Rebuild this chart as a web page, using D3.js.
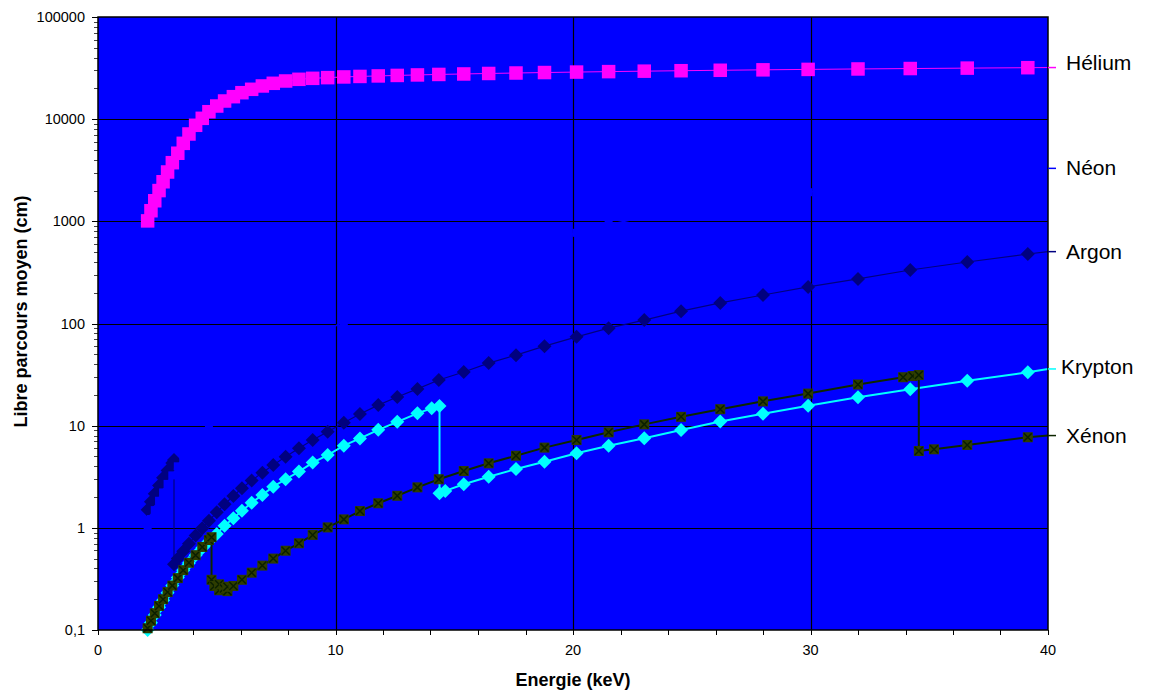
<!DOCTYPE html>
<html>
<head>
<meta charset="utf-8">
<script src="https://cdn.jsdelivr.net/npm/d3@7"></script>
<style>
  html, body { margin: 0; padding: 0; background: #ffffff; }
  svg { display: block; font-family: "Liberation Sans", Arial, sans-serif; }
</style>
</head>
<body>
<svg id="chart" width="1149" height="694"></svg>
<script>
// Energy grid (keV) shared by helium and neon
const energies = [2.09, 2.23, 2.39, 2.57, 2.74, 2.93, 3.13, 3.36, 3.59, 3.83, 4.11, 4.39, 4.67, 5.0,
  5.33, 5.70, 6.06, 6.47, 6.92, 7.38, 7.90, 8.46, 9.04, 9.67, 10.35, 11.03, 11.8, 12.6, 13.45,
  14.35, 15.4, 16.45, 17.6, 18.8, 20.15, 21.5, 23.0, 24.55, 26.2, 28.0, 29.9, 32.0, 34.2, 36.6, 39.15];

// Mean free path (cm)
const heliumValues = [1010, 1270, 1590, 2000, 2440, 3040, 3750, 4640, 5800, 7160, 8710, 10190, 11830, 13450,
  15060, 16600, 18160, 19600, 21130, 22440, 23640, 24550, 25100, 25500, 25900, 26200, 26500, 26800, 27100,
  27400, 27700, 28000, 28300, 28600, 28900, 29200, 29500, 29800, 30100, 30400, 30700, 31000, 31300, 31600, 31900];

const neonValues = [1.01, 1.22, 1.49, 1.84, 2.22, 2.69, 3.26, 4.0, 4.85, 5.85, 7.2, 8.7, 10.4, 12.7,
  15.2, 18.5, 22.1, 26.8, 32.5, 39.3, 47.8, 58.3, 70.7, 86, 104.6, 126.6, 155, 189, 230,
  279, 345, 420, 514, 627, 772, 926, 1104, 1291, 1490, 1702, 1928, 2179, 2500, 2850, 3200];

const argonEnergies = [2.09, 2.23, 2.39, 2.57, 2.74, 2.93, 3.13, 3.2, 3.2, 3.36, 3.59, 3.83, 4.11, 4.39, 4.67, 5.0,
  5.33, 5.70, 6.06, 6.47, 6.92, 7.38, 7.90, 8.46, 9.04, 9.67, 10.35, 11.03, 11.8, 12.6, 13.45,
  14.35, 15.4, 16.45, 17.6, 18.8, 20.15, 21.5, 23.0, 24.55, 26.2, 28.0, 29.9, 32.0, 34.2, 36.6, 39.15];
const argonValues = [1.5, 1.8, 2.15, 2.6, 3.1, 3.65, 4.3, 4.6, 0.44, 0.50, 0.59, 0.70, 0.84, 0.99, 1.17, 1.42,
  1.70, 2.05, 2.44, 2.9, 3.47, 4.12, 4.97, 6.0, 7.24, 8.7, 10.7, 13.0, 15.9, 19.1, 22.9,
  28, 33.5, 41, 49, 60, 74, 90, 108, 132, 159, 190, 228, 273, 334, 400, 479];

const kryptonEnergies = [2.09, 2.23, 2.39, 2.57, 2.74, 2.93, 3.13, 3.36, 3.59, 3.83, 4.11, 4.39, 4.67, 5.0,
  5.33, 5.70, 6.06, 6.47, 6.92, 7.38, 7.90, 8.46, 9.04, 9.67, 10.35, 11.03, 11.8, 12.6, 13.45,
  14.05, 14.38, 14.38, 14.62, 15.4, 16.45, 17.6, 18.8, 20.15, 21.5, 23.0, 24.55, 26.2, 28.0, 29.9, 32.0, 34.2, 36.6, 39.15];
const kryptonValues = [0.10, 0.118, 0.14, 0.167, 0.196, 0.232, 0.273, 0.326, 0.385, 0.452, 0.539, 0.635, 0.74, 0.87,
  1.05, 1.24, 1.47, 1.76, 2.10, 2.53, 2.99, 3.55, 4.35, 5.16, 6.37, 7.5, 9.1, 10.9, 13.2,
  14.8, 15.6, 2.18, 2.30, 2.67, 3.16, 3.77, 4.44, 5.37, 6.37, 7.52, 9.07, 11.0, 13.1, 15.7, 19.0, 22.7, 27.5, 33.3];

const xenonEnergies = [2.09, 2.23, 2.39, 2.57, 2.74, 2.93, 3.13, 3.36, 3.59, 3.83, 4.11, 4.39, 4.67, 4.78,
  4.78, 4.9, 5.1, 5.1, 5.3, 5.45, 5.45, 5.70, 6.06, 6.47, 6.92, 7.38, 7.90, 8.46, 9.04, 9.67, 10.35, 11.03,
  11.8, 12.6, 13.45, 14.35, 15.4, 16.45, 17.6, 18.8, 20.15, 21.5, 23.0, 24.55, 26.2, 28.0, 29.9, 32.0,
  33.9, 34.3, 34.56, 34.56, 35.2, 36.6, 39.15];
const xenonValues = [0.104, 0.123, 0.146, 0.172, 0.20, 0.235, 0.272, 0.322, 0.385, 0.455, 0.54, 0.65, 0.76, 0.81,
  0.31, 0.27, 0.245, 0.28, 0.255, 0.24, 0.265, 0.27, 0.31, 0.364, 0.427, 0.50, 0.597, 0.706, 0.852, 1.01, 1.21, 1.46,
  1.74, 2.06, 2.49, 2.99, 3.6, 4.28, 5.08, 6.1, 7.24, 8.61, 10.3, 12.2, 14.5, 17.3, 20.6, 25.3,
  29.8, 30.6, 31.3, 5.65, 5.87, 6.47, 7.7];

// Value of each curve at the right edge (40 keV), where its name is written
const seriesNames = ["Hélium", "Néon", "Argon", "Krypton", "Xénon"];
const edgeValues = [32000, 3300, 505, 35.9, 8.0];

const xTicks = [0, 10, 20, 30, 40];
const xMinorTicks = d3.range(0, 41, 2);
const yTicks = [0.1, 1, 10, 100, 1000, 10000, 100000];
const yTickLabels = ["0,1", "1", "10", "100", "1000", "10000", "100000"];

const svg = d3.select("#chart");
const plotLeft = 98, plotRight = 1048, plotTop = 17, plotBottom = 630;

const x = d3.scaleLinear().domain([0, 40]).range([plotLeft, plotRight]);
const y = d3.scaleLog().domain([0.1, 100000]).range([plotBottom, plotTop]);

// plot background
svg.append("rect").attr("x", plotLeft).attr("y", plotTop)
  .attr("width", plotRight - plotLeft).attr("height", plotBottom - plotTop).attr("fill", "#0000ff");

// grid
const grid = svg.append("g").attr("stroke", "#000000").attr("stroke-width", 1.2);
yTicks.slice(1, -1).forEach(v => {
  grid.append("line").attr("x1", plotLeft).attr("x2", plotRight)
    .attr("y1", Math.round(y(v)) + 0.5).attr("y2", Math.round(y(v)) + 0.5);
});
xTicks.slice(1, -1).forEach(v => {
  grid.append("line").attr("y1", plotTop).attr("y2", plotBottom)
    .attr("x1", Math.round(x(v)) + 0.5).attr("x2", Math.round(x(v)) + 0.5);
});

// axes
const yMinor = [];
for (let d = -1; d < 5; d++) for (let k = 2; k <= 9; k++) yMinor.push(k * Math.pow(10, d));

const yAxis = svg.append("g");
yAxis.selectAll("line.major").data(yTicks).join("line").attr("class", "major")
  .attr("x1", plotLeft - 6).attr("x2", plotLeft)
  .attr("y1", d => Math.round(y(d)) + 0.5).attr("y2", d => Math.round(y(d)) + 0.5)
  .attr("stroke", "#000").attr("stroke-width", 1);
yAxis.selectAll("line.minor").data(yMinor).join("line").attr("class", "minor")
  .attr("x1", plotLeft - 4).attr("x2", plotLeft)
  .attr("y1", d => Math.round(y(d)) + 0.5).attr("y2", d => Math.round(y(d)) + 0.5)
  .attr("stroke", "#444").attr("stroke-width", 1);
yAxis.selectAll("text").data(yTicks).join("text")
  .attr("x", plotLeft - 13).attr("y", d => y(d) + 5)
  .attr("text-anchor", "end").attr("font-size", 14.5).attr("fill", "#000")
  .text((d, i) => yTickLabels[i]);

const xAxis = svg.append("g");
xAxis.selectAll("line").data(xMinorTicks).join("line")
  .attr("x1", d => Math.round(x(d)) + 0.5).attr("x2", d => Math.round(x(d)) + 0.5)
  .attr("y1", plotBottom).attr("y2", plotBottom + 5)
  .attr("stroke", "#000").attr("stroke-width", 1);
xAxis.selectAll("text").data(xTicks).join("text")
  .attr("x", d => x(d)).attr("y", plotBottom + 25)
  .attr("text-anchor", "middle").attr("font-size", 14.5).attr("fill", "#000")
  .text(d => d);

// axis titles
svg.append("text").attr("x", (plotLeft + plotRight) / 2).attr("y", 686)
  .attr("text-anchor", "middle").attr("font-size", 18).attr("font-weight", "bold")
  .text("Energie (keV)");
svg.append("text").attr("transform", `translate(27,${(plotTop + plotBottom) / 2 - 12}) rotate(-90)`)
  .attr("text-anchor", "middle").attr("font-size", 18).attr("font-weight", "bold")
  .text("Libre parcours moyen (cm)");

// series
const line = d3.line().x(d => x(d[0])).y(d => y(d[1]));
const zip = (es, vs) => es.map((e, i) => [e, vs[i]]);

const series = [
  { name: "Hélium", pts: zip(energies, heliumValues), edge: edgeValues[0], color: "#ff00ff", width: 1, marker: "square", size: 13.5, fill: "#ff00ff", dy: -5 },
  { name: "Argon", pts: zip(argonEnergies, argonValues), edge: edgeValues[2], color: "#000080", width: 1.2, marker: "diamond", size: 14, fill: "#000080", dy: 0 },
  { name: "Néon", pts: zip(energies, neonValues), edge: edgeValues[1], color: "#0000ff", width: 1.5, marker: "square", size: 8, fill: "#0000ff", dy: 0 },
  { name: "Krypton", pts: zip(kryptonEnergies, kryptonValues), edge: edgeValues[3], color: "#00ffff", width: 2, marker: "diamond", size: 14, fill: "#00ffff", dy: -2 },
  { name: "Xénon", pts: zip(xenonEnergies, xenonValues), edge: edgeValues[4], color: "#0d2600", width: 2, marker: "xsquare", size: 10, fill: "#2e3d00", dy: 0 }
];

series.forEach(s => {
  const g = svg.append("g");
  g.append("path").attr("d", line(s.pts.concat([[40, s.edge]])))
    .attr("fill", "none").attr("stroke", s.color).attr("stroke-width", s.width);
  const h = s.size / 2;
  s.pts.forEach(p => {
    const cx = x(p[0]), cy = y(p[1]);
    if (s.marker === "square") {
      g.append("rect").attr("x", cx - h).attr("y", cy - h).attr("width", s.size).attr("height", s.size)
        .attr("fill", s.fill);
    } else if (s.marker === "diamond") {
      g.append("path").attr("d", `M${cx},${cy - h}L${cx + h},${cy}L${cx},${cy + h}L${cx - h},${cy}Z`)
        .attr("fill", s.fill);
    } else {
      g.append("rect").attr("x", cx - h).attr("y", cy - h).attr("width", s.size).attr("height", s.size)
        .attr("fill", s.fill);
      g.append("path").attr("d", `M${cx - h + 1},${cy - h + 1}L${cx + h - 1},${cy + h - 1}M${cx + h - 1},${cy - h + 1}L${cx - h + 1},${cy + h - 1}`)
        .attr("stroke", "#0a1f00").attr("stroke-width", 1.5);
    }
  });
});

// plot frame
svg.append("rect").attr("x", plotLeft).attr("y", plotTop)
  .attr("width", plotRight - plotLeft).attr("height", plotBottom - plotTop)
  .attr("fill", "none").attr("stroke", "#000").attr("stroke-width", 1.5);

// curve names at the right edge
const labelG = svg.append("g");
series.forEach(s => {
  labelG.append("line").attr("x1", plotRight).attr("x2", plotRight + 8)
    .attr("y1", y(s.edge)).attr("y2", y(s.edge))
    .attr("stroke", s.color).attr("stroke-width", 1.5);
});
const labelOrder = seriesNames.map(n => series.find(s => s.name === n));
labelG.selectAll("text").data(labelOrder).join("text")
  .attr("x", d => d.name === "Krypton" ? 1061 : 1066)
  .attr("y", d => y(d.edge) + 7 + d.dy)
  .attr("font-size", 21).attr("fill", "#000")
  .text(d => d.name);
</script>
</body>
</html>
